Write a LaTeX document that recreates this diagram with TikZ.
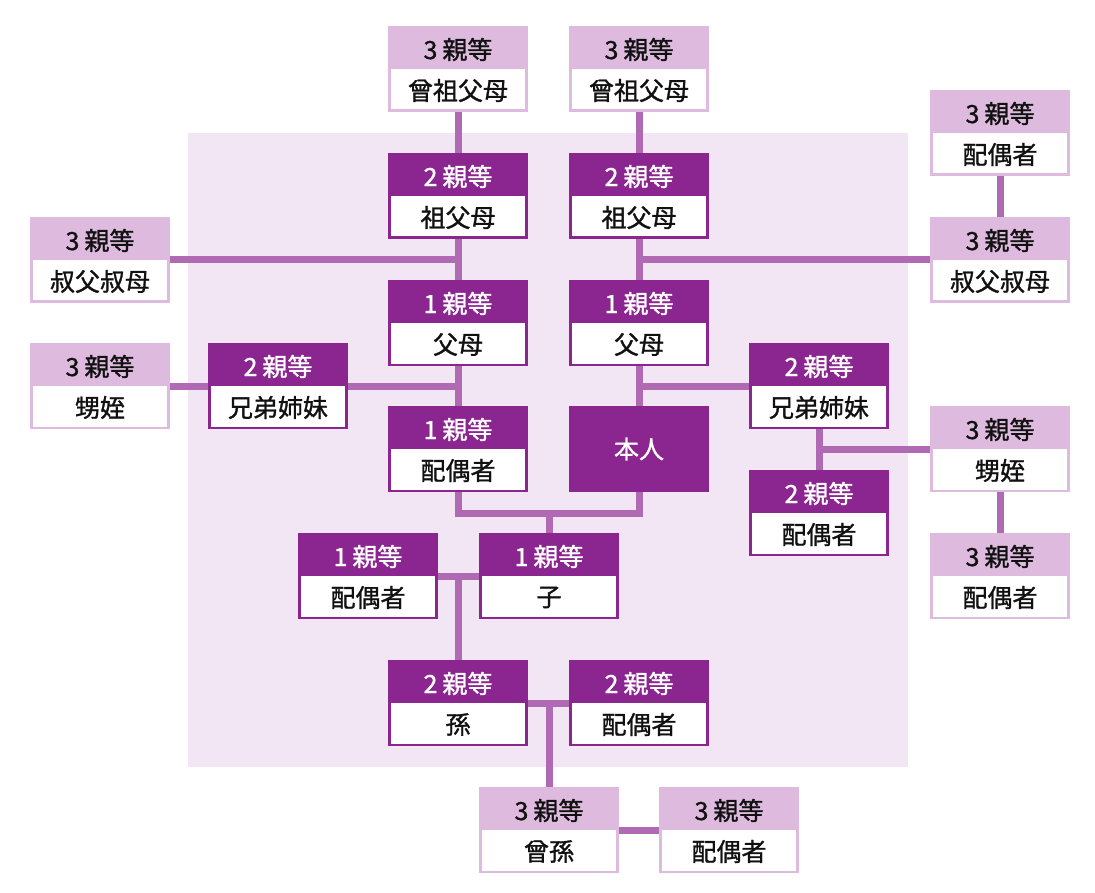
\documentclass[tikz,border=0pt]{standalone}
\usepackage{fontspec}
\newfontfamily\jp[FakeBold=1.2]{Noto Sans CJK JP}
\usetikzlibrary{calc}
\definecolor{dk}{HTML}{8B2690}
\definecolor{lt}{HTML}{DEBBDE}
\definecolor{ln}{HTML}{B06AB4}
\definecolor{bg}{HTML}{F2E6F5}
\definecolor{ink}{HTML}{111111}
\tikzset{
  boxbase/.style={rectangle, minimum width=140pt, minimum height=86pt, anchor=north west, inner sep=0pt, outer sep=0pt},
  dkbox/.style={boxbase, fill=dk},
  ltbox/.style={boxbase, fill=lt},
  txt/.style={font=\jp\fontsize{25}{25}\selectfont, inner sep=0pt, anchor=center},
  conn/.style={draw=ln, line width=7pt},
}
\newcommand\dg[1]{#1\hspace{5pt}}
\newcommand\famnode[7]{%
  \node[#2] (#1) at (#3,#4) {};
  \fill[white] ($(#1.north west)+(3,43)$) rectangle ($(#1.south east)+(-3,-2.5)$);
  \node[txt, text=#5] (#1h) at ($(#1.north)+(0,23.5)$) {#6};
  \node[txt, text=ink] (#1b) at ($(#1.north)+(0,64.5)$) {#7};
}
\begin{document}
\begin{tikzpicture}[x=1pt, y=-1pt]
\useasboundingbox (0,0) rectangle (1095,893);
\fill[bg] (188,133) rectangle (908,767);
% boxes
\famnode{sgL}{ltbox}{388}{26}{ink}{\dg{3}親等}{曾祖父母}
\famnode{sgR}{ltbox}{569}{26}{ink}{\dg{3}親等}{曾祖父母}
\famnode{gpL}{dkbox}{388}{153}{white}{\dg{2}親等}{祖父母}
\famnode{gpR}{dkbox}{569}{153}{white}{\dg{2}親等}{祖父母}
\famnode{ujL}{ltbox}{30}{217}{ink}{\dg{3}親等}{叔父叔母}
\famnode{ujR}{ltbox}{930}{217}{ink}{\dg{3}親等}{叔父叔母}
\famnode{usR}{ltbox}{930}{90}{ink}{\dg{3}親等}{配偶者}
\famnode{paL}{dkbox}{388}{280}{white}{\dg{1}親等}{父母}
\famnode{paR}{dkbox}{569}{280}{white}{\dg{1}親等}{父母}
\famnode{neL}{ltbox}{30}{343}{ink}{\dg{3}親等}{甥姪}
\famnode{sibL}{dkbox}{208}{343}{white}{\dg{2}親等}{兄弟姉妹}
\famnode{sibR}{dkbox}{749}{343}{white}{\dg{2}親等}{兄弟姉妹}
\famnode{spo}{dkbox}{388}{406}{white}{\dg{1}親等}{配偶者}
\node[boxbase, fill=dk] (hon) at (569,406) {};
\node[txt, text=white] (honT) at (hon.center) {本人};
\famnode{neR}{ltbox}{930}{406}{ink}{\dg{3}親等}{甥姪}
\famnode{sibRs}{dkbox}{749}{470}{white}{\dg{2}親等}{配偶者}
\famnode{neRs}{ltbox}{930}{533}{ink}{\dg{3}親等}{配偶者}
\famnode{kos}{dkbox}{298}{533}{white}{\dg{1}親等}{配偶者}
\famnode{ko}{dkbox}{479}{533}{white}{\dg{1}親等}{子}
\famnode{mago}{dkbox}{388}{660}{white}{\dg{2}親等}{孫}
\famnode{magos}{dkbox}{569}{660}{white}{\dg{2}親等}{配偶者}
\famnode{hm}{ltbox}{479}{787}{ink}{\dg{3}親等}{曾孫}
\famnode{hms}{ltbox}{659}{787}{ink}{\dg{3}親等}{配偶者}
% connectors
\draw[conn] (sgL.south) -- (gpL.north);
\draw[conn] (sgR.south) -- (gpR.north);
\draw[conn] (gpL.south) -- (paL.north);
\draw[conn] (gpR.south) -- (paR.north);
\draw[conn] (ujL.east) -- (ujL.east -| gpL.south);
\draw[conn] (ujR.west) -- (ujR.west -| gpR.south);
\draw[conn] (usR.south) -- (ujR.north);
\draw[conn] (paL.south) -- (spo.north);
\draw[conn] (paR.south) -- (hon.north);
\draw[conn] (neL.east) -- (sibL.west);
\draw[conn] (sibL.east) -- (sibL.east -| paL.south);
\draw[conn] (sibR.west) -- (sibR.west -| paR.south);
\draw[conn] (sibR.south) -- (sibRs.north);
\draw[conn] (neR.west) -- (neR.west -| sibR.south);
\draw[conn] (neR.south) -- (neRs.north);
\draw[conn] (spo.south) -- ++(0,21) -| (hon.south);
\draw[conn] (ko.north) -- ++(0,-21);
\draw[conn] (kos.east) -- (ko.west);
\draw[conn] (mago.north) -- (mago.north |- ko.west);
\draw[conn] (magos.west) -- (mago.east);
\draw[conn] (hm.north) -- (hm.north |- mago.east);
\draw[conn] (hm.east) -- (hms.west);
\end{tikzpicture}
\end{document}
